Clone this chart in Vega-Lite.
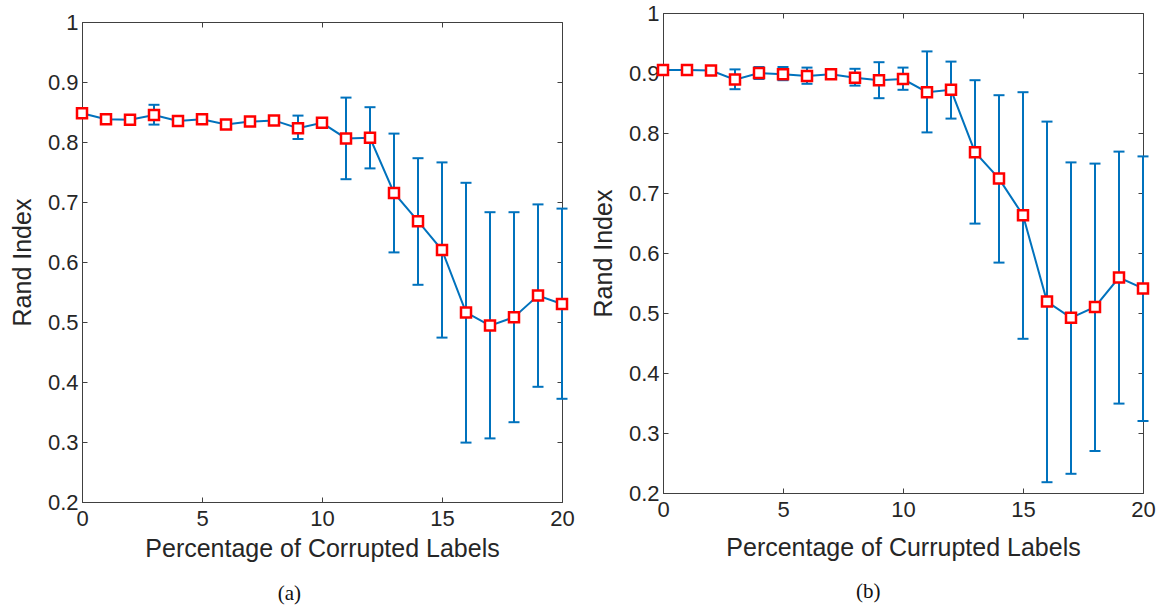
{
  "$schema": "https://vega.github.io/schema/vega-lite/v6.json",
  "padding": {"left": 9, "top": 1, "right": 0, "bottom": 0},
  "spacing": 15,
  "background": "white",
  "config": {
    "font": "Liberation Sans",
    "view": {"stroke": "#404040", "strokeWidth": 1},
    "axis": {"grid": false, "labelFontSize": 22, "titleFontSize": 25, "titleFontWeight": "normal", "labelColor": "#262626", "titleColor": "#262626", "domainColor": "#404040", "tickColor": "#404040", "tickSize": -5, "labelFlush": false, "labelOverlap": false}
  },
  "datasets": {
    "a": [
      {"x": 0, "m": 0.848, "lo": 0.843, "hi": 0.853},
      {"x": 1, "m": 0.838, "lo": 0.834, "hi": 0.842},
      {"x": 2, "m": 0.837, "lo": 0.833, "hi": 0.841},
      {"x": 3, "m": 0.845, "lo": 0.829, "hi": 0.862},
      {"x": 4, "m": 0.835, "lo": 0.831, "hi": 0.839},
      {"x": 5, "m": 0.838, "lo": 0.834, "hi": 0.842},
      {"x": 6, "m": 0.829, "lo": 0.825, "hi": 0.833},
      {"x": 7, "m": 0.834, "lo": 0.830, "hi": 0.838},
      {"x": 8, "m": 0.836, "lo": 0.832, "hi": 0.840},
      {"x": 9, "m": 0.823, "lo": 0.805, "hi": 0.844},
      {"x": 10, "m": 0.832, "lo": 0.828, "hi": 0.836},
      {"x": 11, "m": 0.806, "lo": 0.738, "hi": 0.874},
      {"x": 12, "m": 0.807, "lo": 0.756, "hi": 0.858},
      {"x": 13, "m": 0.715, "lo": 0.616, "hi": 0.814},
      {"x": 14, "m": 0.668, "lo": 0.562, "hi": 0.773},
      {"x": 15, "m": 0.620, "lo": 0.474, "hi": 0.766},
      {"x": 16, "m": 0.516, "lo": 0.299, "hi": 0.732},
      {"x": 17, "m": 0.494, "lo": 0.306, "hi": 0.683},
      {"x": 18, "m": 0.508, "lo": 0.333, "hi": 0.683},
      {"x": 19, "m": 0.544, "lo": 0.392, "hi": 0.696},
      {"x": 20, "m": 0.530, "lo": 0.372, "hi": 0.689}
    ],
    "b": [
      {"x": 0, "m": 0.905, "lo": 0.901, "hi": 0.909},
      {"x": 1, "m": 0.905, "lo": 0.901, "hi": 0.909},
      {"x": 2, "m": 0.904, "lo": 0.900, "hi": 0.908},
      {"x": 3, "m": 0.889, "lo": 0.873, "hi": 0.906},
      {"x": 4, "m": 0.900, "lo": 0.890, "hi": 0.910},
      {"x": 5, "m": 0.898, "lo": 0.888, "hi": 0.910},
      {"x": 6, "m": 0.895, "lo": 0.882, "hi": 0.909},
      {"x": 7, "m": 0.898, "lo": 0.893, "hi": 0.903},
      {"x": 8, "m": 0.892, "lo": 0.879, "hi": 0.907},
      {"x": 9, "m": 0.888, "lo": 0.858, "hi": 0.918},
      {"x": 10, "m": 0.890, "lo": 0.872, "hi": 0.909},
      {"x": 11, "m": 0.868, "lo": 0.801, "hi": 0.936},
      {"x": 12, "m": 0.872, "lo": 0.824, "hi": 0.919},
      {"x": 13, "m": 0.768, "lo": 0.649, "hi": 0.888},
      {"x": 14, "m": 0.724, "lo": 0.584, "hi": 0.863},
      {"x": 15, "m": 0.663, "lo": 0.457, "hi": 0.868},
      {"x": 16, "m": 0.519, "lo": 0.218, "hi": 0.819},
      {"x": 17, "m": 0.492, "lo": 0.232, "hi": 0.751},
      {"x": 18, "m": 0.510, "lo": 0.270, "hi": 0.749},
      {"x": 19, "m": 0.559, "lo": 0.349, "hi": 0.769},
      {"x": 20, "m": 0.541, "lo": 0.320, "hi": 0.761}
    ]
  },
  "hconcat": [
    {
      "spacing": -4,
      "vconcat": [
        {
          "width": 480,
          "height": 1,
          "data": {"values": []},
          "view": {"stroke": null},
          "mark": {"type": "point", "opacity": 0},
          "encoding": {}
        },
        {
          "width": 480,
          "height": 480,
          "data": {"name": "a"},
          "title": {"text": "(a)", "orient": "bottom", "frame": "bounds", "anchor": "middle", "font": "Liberation Serif", "fontSize": 21, "fontWeight": "normal", "color": "#111111", "offset": 22, "dx": -3},
          "resolve": {"axis": {"x": "independent", "y": "independent"}},
          "layer": [
            {
              "mark": {"type": "rule", "color": "#0072BD", "strokeWidth": 2},
              "encoding": {
                "x": {"field": "x", "type": "quantitative", "scale": {"domain": [0, 20], "nice": false, "zero": false}, "axis": {"values": [0, 5, 10, 15, 20], "format": "d", "title": "Percentage of Corrupted Labels", "labelPadding": 11, "titlePadding": 7}},
                "y": {"field": "lo", "type": "quantitative", "scale": {"domain": [0.2, 1], "nice": false, "zero": false}, "axis": {"values": [0.2, 0.3, 0.4, 0.5, 0.6, 0.7, 0.8, 0.9, 1], "format": ".1~f", "title": "Rand Index", "labelPadding": 9, "titlePadding": 12}},
                "y2": {"field": "hi"}
              }
            },
            {
              "mark": {"type": "point", "shape": "M-1,0L1,0", "filled": false, "color": "#0072BD", "strokeWidth": 2, "size": 121, "opacity": 1},
              "encoding": {
                "x": {"field": "x", "type": "quantitative", "scale": {"domain": [0, 20], "nice": false, "zero": false}, "axis": null},
                "y": {"field": "lo", "type": "quantitative", "scale": {"domain": [0.2, 1], "nice": false, "zero": false}, "axis": null}
              }
            },
            {
              "mark": {"type": "point", "shape": "M-1,0L1,0", "filled": false, "color": "#0072BD", "strokeWidth": 2, "size": 121, "opacity": 1},
              "encoding": {
                "x": {"field": "x", "type": "quantitative", "scale": {"domain": [0, 20], "nice": false, "zero": false}, "axis": null},
                "y": {"field": "hi", "type": "quantitative", "scale": {"domain": [0.2, 1], "nice": false, "zero": false}, "axis": null}
              }
            },
            {
              "mark": {"type": "line", "color": "#0072BD", "strokeWidth": 2},
              "encoding": {
                "x": {"field": "x", "type": "quantitative", "scale": {"domain": [0, 20], "nice": false, "zero": false}, "axis": null},
                "y": {"field": "m", "type": "quantitative", "scale": {"domain": [0.2, 1], "nice": false, "zero": false}, "axis": null}
              }
            },
            {
              "mark": {"type": "point", "shape": "square", "filled": true, "fill": "white", "stroke": "#FF0000", "strokeWidth": 2.5, "size": 100, "opacity": 1},
              "encoding": {
                "x": {"field": "x", "type": "quantitative", "scale": {"domain": [0, 20], "nice": false, "zero": false}, "axis": {"orient": "top", "values": [0, 5, 10, 15, 20], "labels": false, "domain": false, "title": null}},
                "y": {"field": "m", "type": "quantitative", "scale": {"domain": [0.2, 1], "nice": false, "zero": false}, "axis": {"orient": "right", "values": [0.2, 0.3, 0.4, 0.5, 0.6, 0.7, 0.8, 0.9, 1], "labels": false, "domain": false, "title": null}}
              }
            }
          ]
        }
      ]
    },
    {
      "width": 480,
      "height": 480,
      "data": {"name": "b"},
      "title": {"text": "(b)", "orient": "bottom", "frame": "bounds", "anchor": "middle", "font": "Liberation Serif", "fontSize": 21, "fontWeight": "normal", "color": "#111111", "offset": 21, "dx": -5},
      "resolve": {"axis": {"x": "independent", "y": "independent"}},
      "layer": [
        {
          "mark": {"type": "rule", "color": "#0072BD", "strokeWidth": 2},
          "encoding": {
            "x": {"field": "x", "type": "quantitative", "scale": {"domain": [0, 20], "nice": false, "zero": false}, "axis": {"values": [0, 5, 10, 15, 20], "format": "d", "title": "Percentage of Currupted Labels", "labelPadding": 11, "titlePadding": 15}},
            "y": {"field": "lo", "type": "quantitative", "scale": {"domain": [0.2, 1], "nice": false, "zero": false}, "axis": {"values": [0.2, 0.3, 0.4, 0.5, 0.6, 0.7, 0.8, 0.9, 1], "format": ".1~f", "title": "Rand Index", "labelPadding": 9, "titlePadding": 12}},
            "y2": {"field": "hi"}
          }
        },
        {
          "mark": {"type": "point", "shape": "M-1,0L1,0", "filled": false, "color": "#0072BD", "strokeWidth": 2, "size": 121, "opacity": 1},
          "encoding": {
            "x": {"field": "x", "type": "quantitative", "scale": {"domain": [0, 20], "nice": false, "zero": false}, "axis": null},
            "y": {"field": "lo", "type": "quantitative", "scale": {"domain": [0.2, 1], "nice": false, "zero": false}, "axis": null}
          }
        },
        {
          "mark": {"type": "point", "shape": "M-1,0L1,0", "filled": false, "color": "#0072BD", "strokeWidth": 2, "size": 121, "opacity": 1},
          "encoding": {
            "x": {"field": "x", "type": "quantitative", "scale": {"domain": [0, 20], "nice": false, "zero": false}, "axis": null},
            "y": {"field": "hi", "type": "quantitative", "scale": {"domain": [0.2, 1], "nice": false, "zero": false}, "axis": null}
          }
        },
        {
          "mark": {"type": "line", "color": "#0072BD", "strokeWidth": 2},
          "encoding": {
            "x": {"field": "x", "type": "quantitative", "scale": {"domain": [0, 20], "nice": false, "zero": false}, "axis": null},
            "y": {"field": "m", "type": "quantitative", "scale": {"domain": [0.2, 1], "nice": false, "zero": false}, "axis": null}
          }
        },
        {
          "mark": {"type": "point", "shape": "square", "filled": true, "fill": "white", "stroke": "#FF0000", "strokeWidth": 2.5, "size": 100, "opacity": 1},
          "encoding": {
            "x": {"field": "x", "type": "quantitative", "scale": {"domain": [0, 20], "nice": false, "zero": false}, "axis": {"orient": "top", "values": [0, 5, 10, 15, 20], "labels": false, "domain": false, "title": null}},
            "y": {"field": "m", "type": "quantitative", "scale": {"domain": [0.2, 1], "nice": false, "zero": false}, "axis": {"orient": "right", "values": [0.2, 0.3, 0.4, 0.5, 0.6, 0.7, 0.8, 0.9, 1], "labels": false, "domain": false, "title": null}}
          }
        }
      ]
    }
  ]
}
